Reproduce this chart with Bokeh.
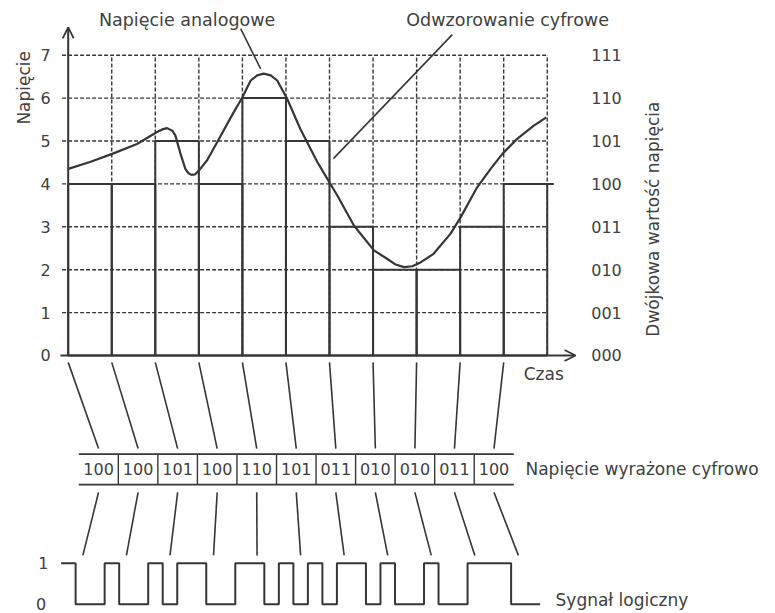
import math
from bokeh.plotting import figure
from bokeh.models import Range1d, Arrow, OpenHead
from bokeh.core.properties import value
from bokeh.embed import file_html
from bokeh.resources import INLINE

# ---------------- data ----------------
sample_idx = list(range(11))
sample_volts = [4, 4, 5, 4, 6, 5, 3, 2, 2, 3, 4]
codes = ["100", "100", "101", "100", "110", "101", "011", "010", "010", "011", "100"]
volt_ticks = [0, 1, 2, 3, 4, 5, 6, 7]
binary_ticks = ["000", "001", "010", "011", "100", "101", "110", "111"]
signal_tick_labels = ["0", "1"]

analog_t = [0.0, 0.5, 1.01, 1.58, 2.04, 2.16, 2.27, 2.39, 2.46, 2.58, 2.69, 2.76,
            2.83, 2.91, 3.0, 3.19, 3.42, 3.75, 4.0, 4.19, 4.34, 4.49, 4.65, 4.8,
            5.03, 5.33, 5.72, 6.02, 6.18, 6.56, 7.02, 7.33, 7.52, 7.71, 7.9, 8.09,
            8.39, 8.78, 9.01, 9.39, 9.7, 9.97, 10.31, 10.69, 10.98]
analog_v = [4.35, 4.51, 4.70, 4.93, 5.21, 5.27, 5.30, 5.24, 5.13, 4.70, 4.35, 4.25,
            4.21, 4.22, 4.31, 4.55, 4.97, 5.58, 6.02, 6.41, 6.53, 6.57, 6.53, 6.41,
            5.98, 5.28, 4.51, 4.00, 3.73, 3.03, 2.45, 2.25, 2.12, 2.06, 2.08, 2.17,
            2.37, 2.84, 3.22, 3.92, 4.35, 4.70, 5.05, 5.36, 5.55]

# ---------------- layout / style ----------------
INK = "#363636"
TXT = "#404040"
FONT = value("DejaVu Sans")

box_x0, box_w = 0.243, 0.908
box_top, box_bot = -2.30, -3.01
sig_x0, sig_hi, sig_lo = -0.163, -4.84, -5.80
bit_w = 1.0 / 3.0

p = figure(width=775, height=613,
           x_range=Range1d(-1.5545, 16.241), y_range=Range1d(-6.014, 8.275),
           output_backend="svg", toolbar_location=None, min_border=0,
           x_axis_location=None, y_axis_location=None)
p.outline_line_color = None
p.grid.grid_line_color = None
p.background_fill_color = "white"
p.border_fill_color = "white"

n = len(sample_idx)
top_v = volt_ticks[-1]

# dotted grid
p.segment(x0=[-0.14] * (len(volt_ticks) - 1), y0=volt_ticks[1:],
          x1=[n] * (len(volt_ticks) - 1), y1=volt_ticks[1:],
          line_color=INK, line_width=1.4, line_dash="4 2")
p.segment(x0=list(range(1, n + 1)), y0=[0] * n, x1=list(range(1, n + 1)), y1=[top_v] * n,
          line_color=INK, line_width=1.4, line_dash="4 2")

# quantised bars
p.quad(left=sample_idx, right=[i + 1 for i in sample_idx], bottom=[0] * n, top=sample_volts,
       fill_color=None, line_color=INK, line_width=2)
p.segment(x0=[n], y0=[sample_volts[-1]], x1=[n + 0.15], y1=[sample_volts[-1]],
          line_color=INK, line_width=2)

# axes with arrows
p.add_layout(Arrow(end=OpenHead(size=11, line_color=INK, line_width=1.8),
                   x_start=0, y_start=0, x_end=0, y_end=7.65,
                   line_color=INK, line_width=2))
p.add_layout(Arrow(end=OpenHead(size=11, line_color=INK, line_width=1.8),
                   x_start=-0.177, y_start=0, x_end=11.65, y_end=0,
                   line_color=INK, line_width=2))

# analog curve
p.line(analog_t, analog_v, line_color=INK, line_width=2.2, line_join="round")

# pointers
p.segment(x0=[3.96, 6.09], y0=[7.62, 4.59], x1=[4.42, 8.82], y1=[6.68, 7.48],
          line_color=INK, line_width=1.6)

# axis labels
p.text(x=[-0.52] * len(volt_ticks), y=volt_ticks, text=[str(v) for v in volt_ticks],
       text_font=FONT, text_font_size="16px", text_color=TXT,
       text_align="center", text_baseline="middle")
p.text(x=[12.36] * len(binary_ticks), y=volt_ticks, text=binary_ticks,
       text_font=FONT, text_font_size="16px", text_color=TXT,
       text_align="center", text_baseline="middle")
p.text(x=[-1.02], y=[6.24], text=["Napięcie"], angle=math.pi / 2,
       text_font=FONT, text_font_size="17px", text_color=TXT,
       text_align="center", text_baseline="middle")
p.text(x=[13.42], y=[3.18], text=["Dwójkowa wartość napięcia"], angle=math.pi / 2,
       text_font=FONT, text_font_size="17px", text_color=TXT,
       text_align="center", text_baseline="middle")
p.text(x=[10.46], y=[-0.42], text=["Czas"],
       text_font=FONT, text_font_size="17px", text_color=TXT,
       text_align="left", text_baseline="middle")
p.text(x=[2.73, 10.09], y=[7.82, 7.82], text=["Napięcie analogowe", "Odwzorowanie cyfrowe"],
       text_font=FONT, text_font_size="17.5px", text_color=TXT,
       text_align="center", text_baseline="middle")

# code boxes
centers = [box_x0 + (i + 0.5) * box_w for i in sample_idx]
box_end = box_x0 + n * box_w
p.segment(x0=[box_x0, box_x0], y0=[box_top, box_bot], x1=[box_end, box_end], y1=[box_top, box_bot],
          line_color=INK, line_width=1.6)
divs = [box_x0 + k * box_w for k in range(1, n)]
p.segment(x0=divs, y0=[box_top] * len(divs), x1=divs, y1=[box_bot] * len(divs),
          line_color=INK, line_width=1.4)
p.text(x=centers, y=[(box_top + box_bot) / 2] * n, text=codes,
       text_font=FONT, text_font_size="16px", text_color=TXT,
       text_align="center", text_baseline="middle")
p.text(x=[10.5], y=[(box_top + box_bot) / 2], text=["Napięcie wyrażone cyfrowo"],
       text_font=FONT, text_font_size="17px", text_color=TXT,
       text_align="left", text_baseline="middle")

# connectors axis -> boxes
p.segment(x0=sample_idx, y0=[-0.16] * n, x1=centers, y1=[-2.17] * n,
          line_color=INK, line_width=1.6)
# connectors boxes -> signal
grp_centers = [sig_x0 + (i + 0.5) for i in sample_idx]
p.segment(x0=centers, y0=[-3.19] * n, x1=grp_centers, y1=[-4.66] * n,
          line_color=INK, line_width=1.6)

# logic signal
bits = [int(c) for code in codes for c in code]
sx = [sig_x0 + k * bit_w for k in range(len(bits) + 1)]
sy = [sig_hi if b else sig_lo for b in bits] + [sig_hi if bits[-1] else sig_lo]
p.step(sx, sy, mode="after", line_color=INK, line_width=2)
p.text(x=[-0.62, -0.57], y=[sig_lo, sig_hi], text=signal_tick_labels,
       text_font=FONT, text_font_size="16px", text_color=TXT,
       text_align="center", text_baseline="middle")
p.text(x=[11.19], y=[-5.70], text=["Sygnał logiczny"],
       text_font=FONT, text_font_size="17px", text_color=TXT,
       text_align="left", text_baseline="middle")

open("out.html", "w").write(file_html(p, INLINE))
